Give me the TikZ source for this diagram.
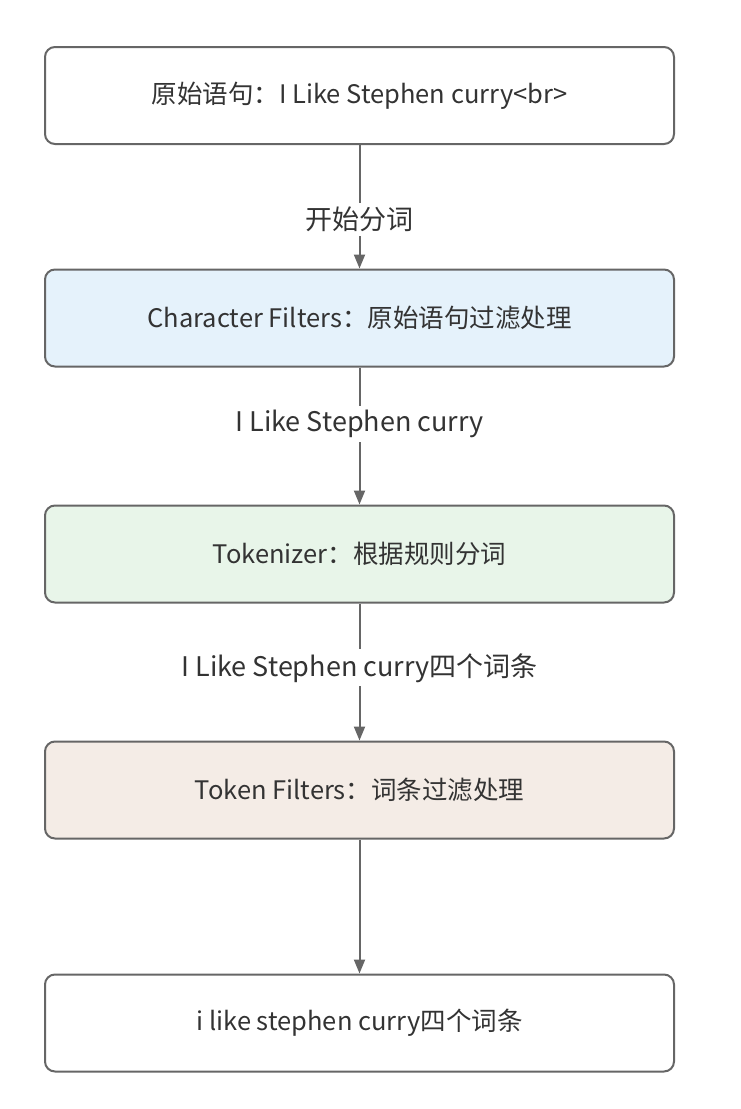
\documentclass[tikz,border=0pt]{standalone}
\usepackage{fontspec}
\setmainfont{Noto Sans CJK SC}
\usetikzlibrary{arrows.meta}
\definecolor{bordc}{HTML}{666666}
\definecolor{txtc}{HTML}{333333}
\definecolor{fblue}{HTML}{E5F2FB}
\definecolor{fgreen}{HTML}{E8F5E9}
\definecolor{fbeige}{HTML}{F4ECE6}
\tikzset{
  procbox/.style={draw=bordc, line width=2pt, rounded corners=10pt, minimum width=629pt, minimum height=97pt, text=txtc, font=\fontsize{25.5}{30}\selectfont, inner sep=0pt},
  flowarrow/.style={draw=bordc, line width=2pt, -{Triangle[length=14pt,width=11pt]}},
  lbl/.style={fill=white, text=txtc, font=\fontsize{27}{32}\selectfont, inner sep=4pt}
}
\begin{document}
\begin{tikzpicture}[x=1pt,y=1pt]
\useasboundingbox (0,0) rectangle (740,-1109);
\node[procbox, fill=white] (b1) at (359.5,-95.5) {原始语句：I Like Stephen curry<br>};
\node[procbox, fill=fblue] (b2) at (359.5,-318) {Character Filters：原始语句过滤处理};
\node[procbox, fill=fgreen] (b3) at (359.5,-554) {Tokenizer：根据规则分词};
\node[procbox, fill=fbeige] (b4) at (359.5,-790) {Token Filters：词条过滤处理};
\node[procbox, fill=white] (b5) at (359.5,-1023) {i like stephen curry四个词条};
\draw[flowarrow] (b1) -- node[lbl, pos=0.6] (l1) {开始分词} (b2);
\draw[flowarrow] (b2) -- node[lbl, pos=0.41] (l2) {I Like Stephen curry} (b3);
\draw[flowarrow] (b3) -- node[lbl, pos=0.47] (l3) {I Like Stephen curry四个词条} (b4);
\draw[flowarrow] (b4) -- (b5);
\end{tikzpicture}
\end{document}
